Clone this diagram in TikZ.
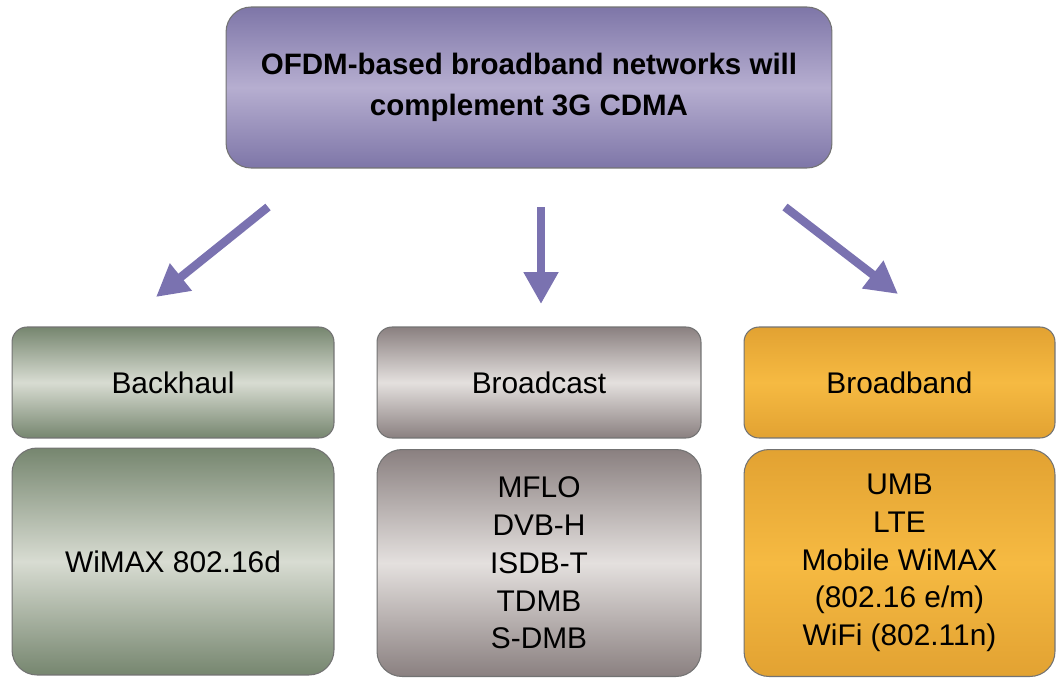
\documentclass[tikz,border=0pt]{standalone}
\usepackage{fontspec}
\setmainfont{Liberation Sans}
\usetikzlibrary{arrows.meta}

\definecolor{purpedge}{HTML}{7E76A8}
\definecolor{purpmid}{HTML}{B6AED0}
\definecolor{greenedge}{HTML}{76866F}
\definecolor{greenmid}{HTML}{D8DCD2}
\definecolor{greyedge}{HTML}{8A8080}
\definecolor{greymid}{HTML}{E4E0DE}
\definecolor{orangeedge}{HTML}{E2A232}
\definecolor{orangemid}{HTML}{F6BA42}
\definecolor{arrowcol}{HTML}{7A72B0}

\begin{document}
\begin{tikzpicture}[x=0.02cm, y=-0.02cm,
  box/.style={draw=black!55, line width=0.6pt, align=center, inner sep=0pt,
    font=\fontsize{17}{21.5}\selectfont},
  head/.style={box, rounded corners=0.3cm, minimum height=2.22cm},
  body/.style={box, rounded corners=0.5cm, minimum height=4.54cm},
  purple/.style={top color=purpedge, bottom color=purpedge, middle color=purpmid},
  greenish/.style={top color=greenedge, bottom color=greenedge, middle color=greenmid},
  greyish/.style={top color=greyedge, bottom color=greyedge, middle color=greymid},
  orangey/.style={top color=orangeedge, bottom color=orangeedge, middle color=orangemid},
  bigarrow/.style={draw=arrowcol, line width=4.8pt, -{Triangle[length=0.64cm, width=0.66cm]}}]
  \useasboundingbox (0,0) rectangle (1057,679);

  % top statement
  \node[box, purple, rounded corners=0.5cm, minimum width=12.12cm, minimum height=3.22cm,
    font=\fontsize{16.8}{23.5}\selectfont\bfseries] (ofdm) at (529,87.5)
    {OFDM-based broadband networks will\\complement 3G CDMA};

  % three columns
  \node[head, greenish, minimum width=6.44cm] (backhaul) at (173,382.5) {Backhaul};
  \node[body, greenish, minimum width=6.44cm] (wimax) at (173,561.5) {WiMAX 802.16d};

  \node[head, greyish, minimum width=6.48cm] (broadcast) at (539,382.5) {Broadcast};
  \node[body, greyish, minimum width=6.48cm] (bclist) at (539,563)
    {MFLO\\DVB-H\\ISDB-T\\TDMB\\S-DMB};

  \node[head, orangey, minimum width=6.22cm] (broadband) at (899.5,382.5) {Broadband};
  \node[body, orangey, minimum width=6.22cm] (bblist) at (899.5,563)
    {UMB\\LTE\\Mobile WiMAX\\(802.16 e/m)\\WiFi (802.11n)};

  % arrows
  \coordinate (l1) at (268,207);
  \coordinate (l2) at (156,297);
  \coordinate (m1) at (541,207);
  \coordinate (m2) at (541,304);
  \coordinate (r1) at (785,207);
  \coordinate (r2) at (898,294);
  \draw[bigarrow] (l1) -- (l2);
  \draw[bigarrow] (m1) -- (m2);
  \draw[bigarrow] (r1) -- (r2);
\end{tikzpicture}
\end{document}
